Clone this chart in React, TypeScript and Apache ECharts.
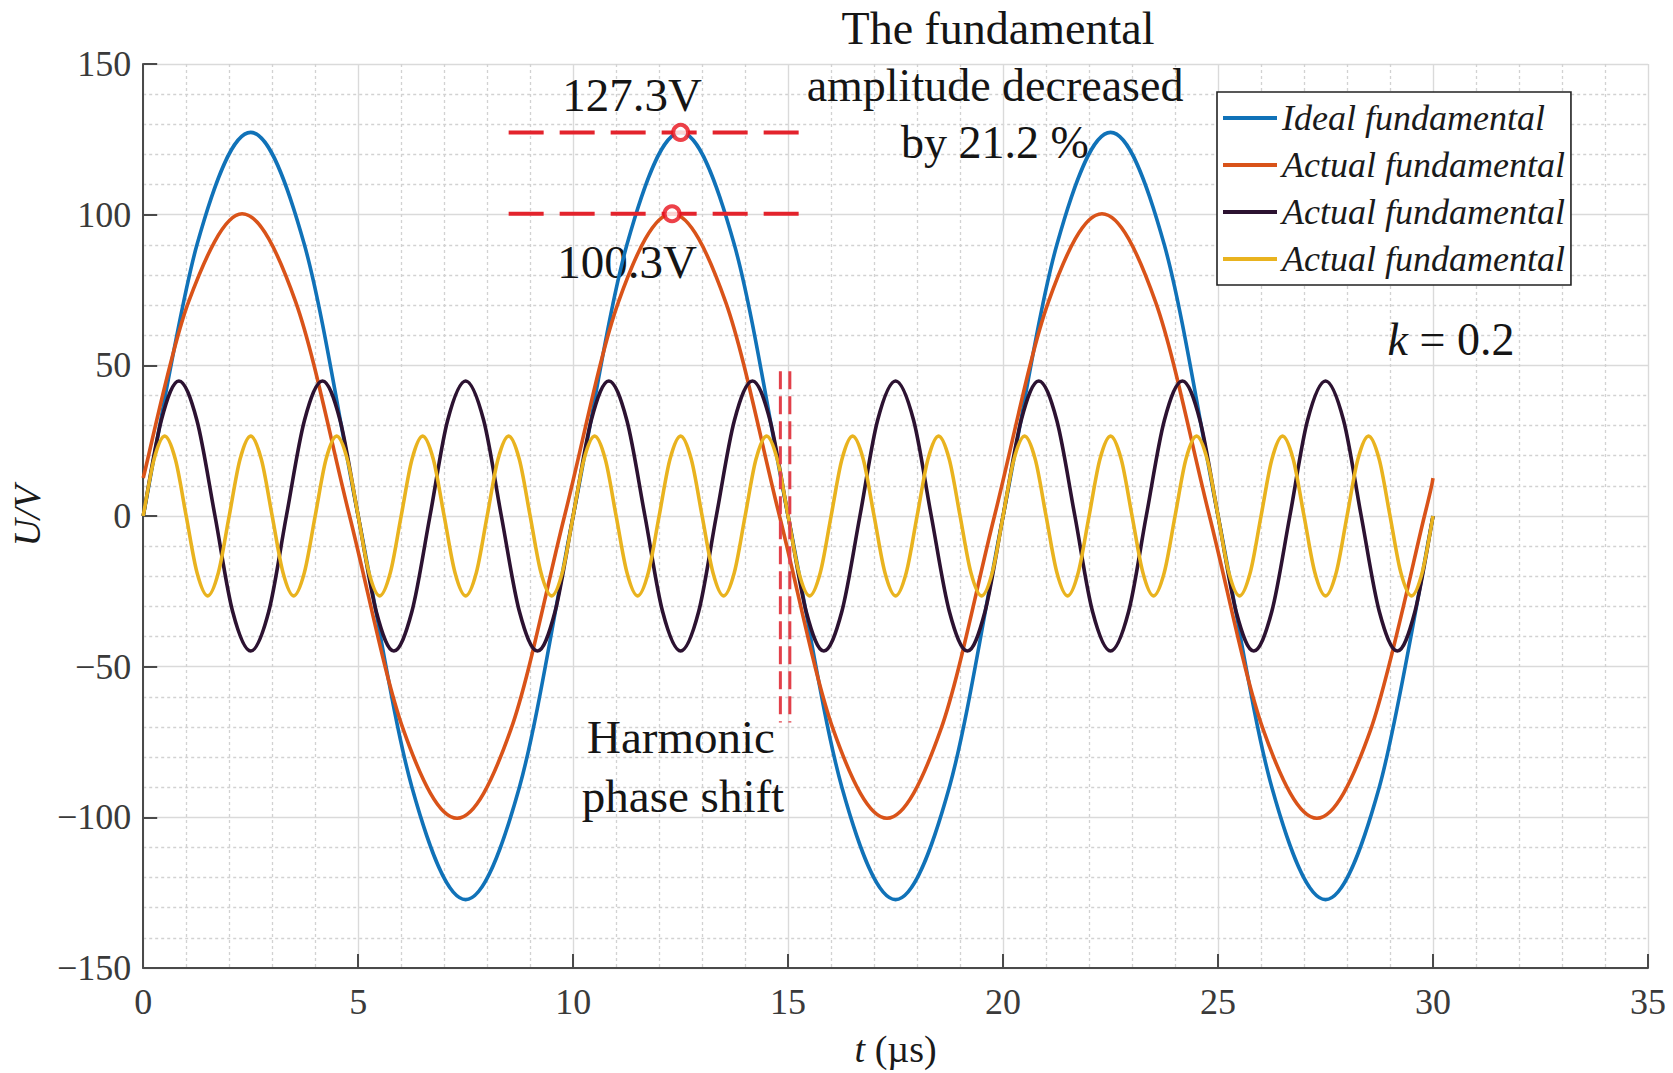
import React, { useEffect, useRef } from 'react';
import * as echarts from 'echarts';

const W = 1673;
const H = 1073;

// axis ranges and tick steps
const xRange = [0, 35];
const xStep = 5;
const yRange = [-150, 150];
const yStep = 50;

const legendNames = ['Ideal fundamental', 'Actual fundamental', 'Actual fundamental', 'Actual fundamental'];

// Ideal fundamental
const idealFund: [number, number][] = [
  [0, 0], [1.25, 90], [2.5, 127.3], [3.75, 90], [5, 0], [6.25, -90], [7.5, -127.3], [8.75, -90],
  [10, 0], [11.25, 90], [12.5, 127.3], [13.75, 90], [15, 0], [16.25, -90], [17.5, -127.3], [18.75, -90],
  [20, 0], [21.25, 90], [22.5, 127.3], [23.75, 90], [25, 0], [26.25, -90], [27.5, -127.3], [28.75, -90],
  [30, 0],
];

// Actual fundamental
const actualFund: [number, number][] = [
  [0, 12.6], [1.05, 70.9], [2.3, 100.3], [3.55, 70.9], [4.8, 0], [6.05, -70.9], [7.3, -100.3], [8.55, -70.9],
  [9.8, 0], [11.05, 70.9], [12.3, 100.3], [13.55, 70.9], [14.8, 0], [16.05, -70.9], [17.3, -100.3], [18.55, -70.9],
  [19.8, 0], [21.05, 70.9], [22.3, 100.3], [23.55, 70.9], [24.8, 0], [26.05, -70.9], [27.3, -100.3], [28.55, -70.9],
  [29.8, 0], [30, 12.6],
];

// 3rd harmonic component
const harmonic3: [number, number][] = [
  [0, 0], [0.42, 31.7], [0.83, 44.8], [1.25, 31.7], [1.67, 0], [2.08, -31.7], [2.5, -44.8], [2.92, -31.7],
  [3.33, 0], [3.75, 31.7], [4.17, 44.8], [4.58, 31.7], [5, 0], [5.42, -31.7], [5.83, -44.8], [6.25, -31.7],
  [6.67, 0], [7.08, 31.7], [7.5, 44.8], [7.92, 31.7], [8.33, 0], [8.75, -31.7], [9.17, -44.8], [9.58, -31.7],
  [10, 0], [10.42, 31.7], [10.83, 44.8], [11.25, 31.7], [11.67, 0], [12.08, -31.7], [12.5, -44.8], [12.92, -31.7],
  [13.33, 0], [13.75, 31.7], [14.17, 44.8], [14.58, 31.7], [15, 0], [15.42, -31.7], [15.83, -44.8], [16.25, -31.7],
  [16.67, 0], [17.08, 31.7], [17.5, 44.8], [17.92, 31.7], [18.33, 0], [18.75, -31.7], [19.17, -44.8], [19.58, -31.7],
  [20, 0], [20.42, 31.7], [20.83, 44.8], [21.25, 31.7], [21.67, 0], [22.08, -31.7], [22.5, -44.8], [22.92, -31.7],
  [23.33, 0], [23.75, 31.7], [24.17, 44.8], [24.58, 31.7], [25, 0], [25.42, -31.7], [25.83, -44.8], [26.25, -31.7],
  [26.67, 0], [27.08, 31.7], [27.5, 44.8], [27.92, 31.7], [28.33, 0], [28.75, -31.7], [29.17, -44.8], [29.58, -31.7],
  [30, 0],
];

// 5th harmonic component
const harmonic5: [number, number][] = [
  [0, 0], [0.25, 18.7], [0.5, 26.5], [0.75, 18.7], [1, 0], [1.25, -18.7], [1.5, -26.5], [1.75, -18.7],
  [2, 0], [2.25, 18.7], [2.5, 26.5], [2.75, 18.7], [3, 0], [3.25, -18.7], [3.5, -26.5], [3.75, -18.7],
  [4, 0], [4.25, 18.7], [4.5, 26.5], [4.75, 18.7], [5, 0], [5.25, -18.7], [5.5, -26.5], [5.75, -18.7],
  [6, 0], [6.25, 18.7], [6.5, 26.5], [6.75, 18.7], [7, 0], [7.25, -18.7], [7.5, -26.5], [7.75, -18.7],
  [8, 0], [8.25, 18.7], [8.5, 26.5], [8.75, 18.7], [9, 0], [9.25, -18.7], [9.5, -26.5], [9.75, -18.7],
  [10, 0], [10.25, 18.7], [10.5, 26.5], [10.75, 18.7], [11, 0], [11.25, -18.7], [11.5, -26.5], [11.75, -18.7],
  [12, 0], [12.25, 18.7], [12.5, 26.5], [12.75, 18.7], [13, 0], [13.25, -18.7], [13.5, -26.5], [13.75, -18.7],
  [14, 0], [14.25, 18.7], [14.5, 26.5], [14.75, 18.7], [15, 0], [15.25, -18.7], [15.5, -26.5], [15.75, -18.7],
  [16, 0], [16.25, 18.7], [16.5, 26.5], [16.75, 18.7], [17, 0], [17.25, -18.7], [17.5, -26.5], [17.75, -18.7],
  [18, 0], [18.25, 18.7], [18.5, 26.5], [18.75, 18.7], [19, 0], [19.25, -18.7], [19.5, -26.5], [19.75, -18.7],
  [20, 0], [20.25, 18.7], [20.5, 26.5], [20.75, 18.7], [21, 0], [21.25, -18.7], [21.5, -26.5], [21.75, -18.7],
  [22, 0], [22.25, 18.7], [22.5, 26.5], [22.75, 18.7], [23, 0], [23.25, -18.7], [23.5, -26.5], [23.75, -18.7],
  [24, 0], [24.25, 18.7], [24.5, 26.5], [24.75, 18.7], [25, 0], [25.25, -18.7], [25.5, -26.5], [25.75, -18.7],
  [26, 0], [26.25, 18.7], [26.5, 26.5], [26.75, 18.7], [27, 0], [27.25, -18.7], [27.5, -26.5], [27.75, -18.7],
  [28, 0], [28.25, 18.7], [28.5, 26.5], [28.75, 18.7], [29, 0], [29.25, -18.7], [29.5, -26.5], [29.75, -18.7],
  [30, 0],
];

// annotation marks
const peakLineIdeal: [number, number][] = [[8.5, 127.3], [15.5, 127.3]];
const peakLineActual: [number, number][] = [[8.5, 100.3], [15.5, 100.3]];
const peakMarkers: [number, number][] = [[12.5, 127.3], [12.3, 100.3]];
const shiftLineA: [number, number][] = [[14.82, 48], [14.82, -68.5]];
const shiftLineB: [number, number][] = [[15.04, 48], [15.04, -68.5]];

const colors = ['#1072b8', '#d95319', '#2c1231', '#e9b31f'];
const SERIF = '"Liberation Serif", "Times New Roman", serif';

// Smooth curve (Catmull-Rom) through the pixel positions of the data points
function splinePath(pts: number[][]): string {
  let d = `M${pts[0][0]},${pts[0][1]}`;
  for (let i = 0; i < pts.length - 1; i++) {
    const p0 = pts[Math.max(i - 1, 0)];
    const p1 = pts[i];
    const p2 = pts[i + 1];
    const p3 = pts[Math.min(i + 2, pts.length - 1)];
    const c1x = p1[0] + (p2[0] - p0[0]) / 6;
    const c1y = p1[1] + (p2[1] - p0[1]) / 6;
    const c2x = p2[0] - (p3[0] - p1[0]) / 6;
    const c2y = p2[1] - (p3[1] - p1[1]) / 6;
    d += ` C${c1x},${c1y} ${c2x},${c2y} ${p2[0]},${p2[1]}`;
  }
  return d;
}

function makeOption() {
  const names = legendNames.map((n, i) => `${n}#${i}`);
  const curves = [idealFund, actualFund, harmonic3, harmonic5];
  const gridLine = { show: true, lineStyle: { color: '#dadada', width: 1.4, type: 'solid' as const } };
  const minorLine = { show: true, lineStyle: { color: '#d2d2d2', width: 1.3, type: [3, 3] } };
  const axisLine = { show: true, onZero: false, lineStyle: { color: '#4a4a4a', width: 2 } };
  const axisTick = { show: true, inside: true, length: 14, lineStyle: { color: '#4a4a4a', width: 2 } };
  const labelStyle = { fontFamily: SERIF, fontSize: 36, color: '#3a3a3a' };
  const txt = (text: string, x: number, y: number, size: number) => ({
    type: 'text',
    z: 1,
    x,
    y,
    style: {
      text,
      fontFamily: SERIF,
      fontSize: size,
      fill: '#151515',
      textAlign: 'center',
      align: 'center',
      textVerticalAlign: 'middle',
      verticalAlign: 'middle',
    },
  });
  return {
    animation: false,
    backgroundColor: '#ffffff',
    grid: { left: 125, right: W - 1648, top: 64, bottom: H - 968, containLabel: false },
    xAxis: {
      type: 'value',
      min: xRange[0],
      max: xRange[1],
      interval: xStep,
      name: '{i|t} (µs)',
      nameLocation: 'middle',
      nameGap: 62,
      nameTextStyle: {
        fontFamily: SERIF,
        fontSize: 38,
        color: '#1a1a1a',
        rich: { i: { fontFamily: SERIF, fontSize: 38, fontStyle: 'italic', color: '#1a1a1a' } },
      },
      axisLine,
      axisTick,
      axisLabel: { ...labelStyle, margin: 16 },
      splitLine: gridLine,
      minorTick: { show: false, splitNumber: 5 },
      minorSplitLine: minorLine,
    },
    yAxis: {
      type: 'value',
      min: yRange[0],
      max: yRange[1],
      interval: yStep,
      name: 'U/V',
      nameLocation: 'middle',
      nameGap: 84,
      nameTextStyle: { fontFamily: SERIF, fontSize: 38, fontStyle: 'italic', color: '#1a1a1a' },
      axisLine,
      axisTick,
      axisLabel: {
        ...labelStyle,
        margin: 12,
        formatter: (v: number) => String(v).replace('-', '\u2212'),
      },
      splitLine: gridLine,
      minorTick: { show: false, splitNumber: 5 },
      minorSplitLine: minorLine,
    },
    legend: {
      data: names,
      formatter: (n: string) => n.replace(/#\d$/, ''),
      orient: 'vertical',
      left: 1217,
      top: 92,
      icon: 'rect',
      itemWidth: 54,
      itemHeight: 4,
      itemGap: 11,
      padding: [8, 6, 8, 6],
      borderColor: '#222',
      borderWidth: 1.6,
      borderRadius: 0,
      backgroundColor: '#ffffff',
      textStyle: { fontFamily: SERIF, fontSize: 36, lineHeight: 30, fontStyle: 'italic', color: '#1a1a1a' },
    },
    graphic: [
      txt('The fundamental', 998, 28, 46),
      txt('amplitude decreased', 995, 85, 46),
      txt('by 21.2 %', 995, 142, 46),
      txt('127.3V', 632, 95, 47),
      txt('100.3V', 627, 262, 47),
      txt('Harmonic', 681, 737, 47),
      txt('phase shift', 683, 796, 47),
      {
        type: 'text',
        z: 1,
        x: 1451,
        y: 339,
        style: {
          text: '{i|k} = 0.2',
          fontFamily: SERIF,
          fontSize: 46,
          fill: '#151515',
          textAlign: 'center',
          align: 'center',
          textVerticalAlign: 'middle',
          verticalAlign: 'middle',
          rich: { i: { fontFamily: SERIF, fontSize: 46, fontStyle: 'italic', fill: '#151515', color: '#151515' } },
        },
      },
    ],
    series: [
      ...curves.map((d, i) => ({
        name: names[i],
        type: 'custom',
        coordinateSystem: 'cartesian2d',
        data: d,
        encode: { x: 0, y: 1 },
        itemStyle: { color: colors[i] },
        z: 3 + i,
        renderItem: (params: any, api: any) => {
          if (params.dataIndex !== 0) return null;
          const pts = d.map((p) => api.coord(p));
          return {
            type: 'path',
            shape: { pathData: splinePath(pts) },
            style: { stroke: colors[i], lineWidth: 3.6, fill: 'none', lineJoin: 'round' },
          };
        },
      })),
      ...[peakLineIdeal, peakLineActual].map((d, i) => ({
        name: `peak${i}`,
        type: 'line',
        data: d,
        symbol: 'none',
        lineStyle: { color: '#e3232c', width: 4, type: [35, 16] },
        z: 8,
      })),
      ...[shiftLineA, shiftLineB].map((d, i) => ({
        name: `shift${i}`,
        type: 'line',
        data: d,
        symbol: 'none',
        lineStyle: { color: '#e2404a', width: 3, type: [18, 7] },
        z: 8,
      })),
      {
        name: 'markers',
        type: 'scatter',
        data: peakMarkers,
        symbol: 'circle',
        symbolSize: 15,
        itemStyle: { color: '#ffffff', borderColor: '#e8121c', borderWidth: 4 },
        z: 9,
      },
    ],
  };
}

export default function App() {
  const ref = useRef<HTMLDivElement>(null);
  useEffect(() => {
    document.body.style.margin = '0';
    const chart = echarts.init(ref.current as HTMLDivElement, null, { renderer: 'svg' });
    chart.setOption(makeOption() as any);
    return () => chart.dispose();
  }, []);
  return <div ref={ref} style={{ width: W, height: H }} />;
}
